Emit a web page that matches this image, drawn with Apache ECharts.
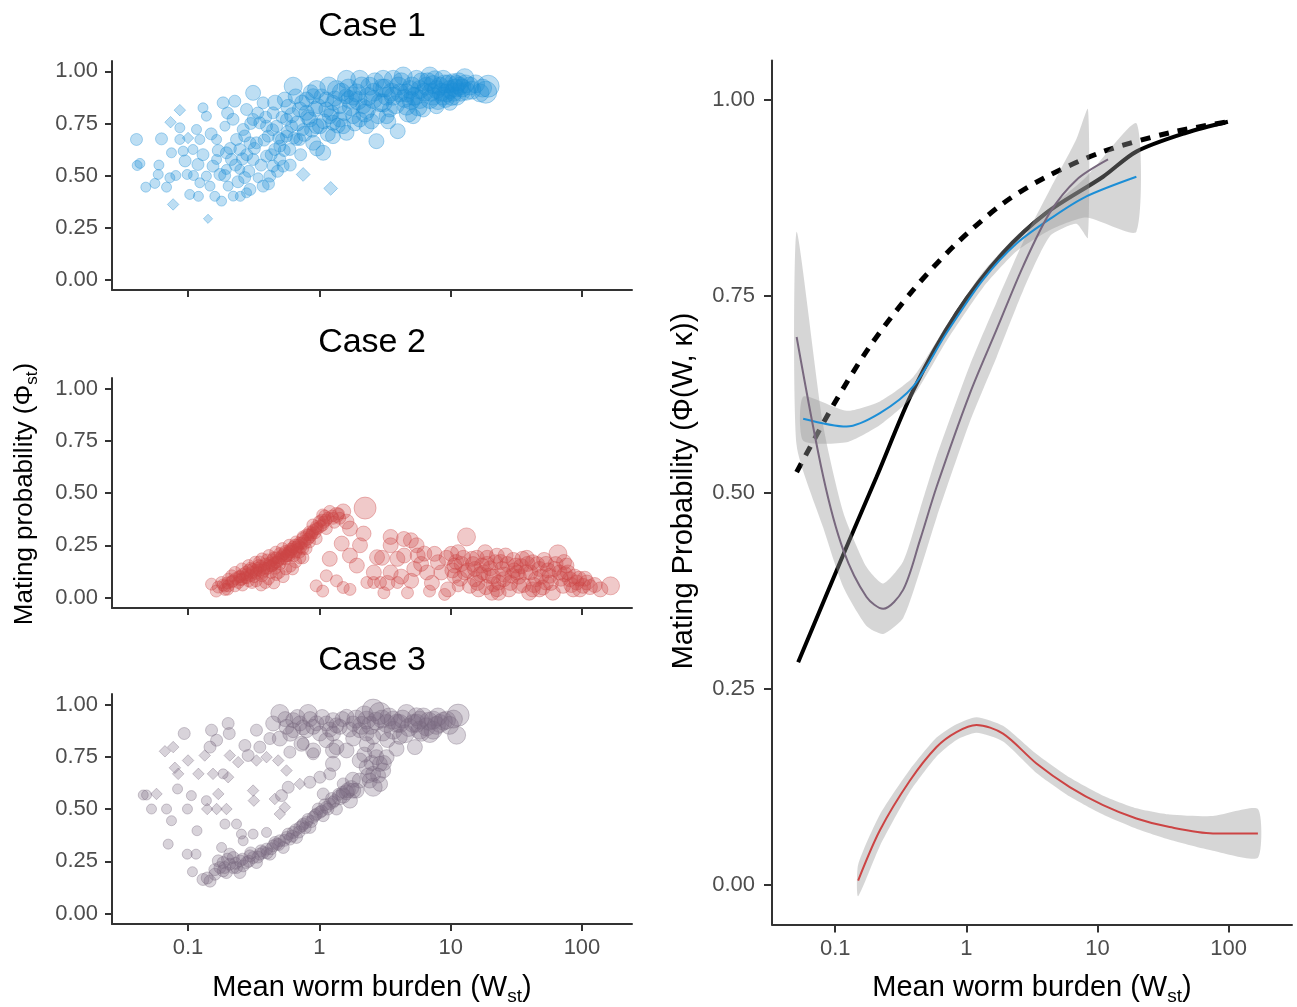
<!DOCTYPE html>
<html><head><meta charset="utf-8">
<script src="https://cdn.jsdelivr.net/npm/echarts@6/dist/echarts.min.js"></script>
<style>html,body{margin:0;padding:0;background:#fff}#c{width:1297px;height:1007px}</style>
</head><body><div id="c"></div>
<script>
// ---------------- data ----------------
const xTicks = [0.1, 1, 10, 100];
const yTicks = [0, 0.25, 0.5, 0.75, 1];
const caseTitles = ['Case 1', 'Case 2', 'Case 3'];

// scatter points: [mean worm burden, mating probability, size class, shape (0 circle, 1 diamond)]
const case1Points = [
[0.0405,0.673,3,0],[0.043,0.558,2,0],[0.041,0.548,2,0],[0.0477,0.444,2,0],[0.0559,0.462,2,0],[0.0593,0.505,2,0],[0.0628,0.676,3,0],[0.0686,0.444,2,0],[0.0727,0.489,2,0],[0.0748,0.609,2,0],[0.077,0.361,2,1],[0.0807,0.5,2,0],[0.0866,0.673,2,0],[0.0866,0.814,2,1],[0.0866,0.729,2,0],[0.0736,0.756,2,1],[0.0918,0.617,2,0],[0.0985,0.505,2,0],[0.103,0.409,2,0],[0.109,0.625,2,0],[0.119,0.553,3,0],[0.123,0.465,2,0],[0.116,0.721,2,0],[0.130,0.825,2,0],[0.138,0.785,2,0],[0.142,0.292,1,1],[0.147,0.449,2,0],[0.155,0.545,3,0],[0.165,0.673,2,0],[0.175,0.505,3,0],[0.180,0.377,2,0],[0.185,0.849,3,0],[0.191,0.737,2,0],[0.196,0.609,3,0],[0.202,0.449,2,0],[0.214,0.577,3,0],[0.221,0.401,2,0],[0.227,0.857,3,0],[0.234,0.673,3,0],[0.248,0.529,2,0],[0.263,0.721,3,0],[0.279,0.817,3,0],[0.279,0.417,2,0],[0.296,0.433,3,0],[0.313,0.897,4,0],[0.313,0.577,3,0],[0.332,0.657,3,0],[0.342,0.489,2,0],[0.352,0.753,3,0],[0.373,0.849,3,0],[0.373,0.449,3,0],[0.396,0.593,3,0],[0.408,0.689,3,0],[0.42,0.497,3,0],[0.445,0.801,3,0],[0.458,0.625,3,0],[0.472,0.737,3,0],[0.5,0.577,3,0],[0.515,0.673,3,0],[0.53,0.545,3,0],[0.546,0.865,4,0],[0.562,0.769,3,0],[0.596,0.625,3,0],[0.614,0.737,3,0],[0.632,0.929,5,0],[0.67,0.673,3,0],[0.71,0.817,4,0],[0.753,0.505,3,1],[0.753,0.721,3,0],[0.798,0.865,4,0],[0.847,0.769,4,0],[0.898,0.657,4,0],[0.951,0.913,5,0],[0.98,0.833,4,0],[1.01,0.737,4,0],[1.07,0.609,4,0],[1.13,0.865,4,0],[1.2,0.785,4,0],[1.22,0.438,3,1],[1.27,0.689,4,0],[1.35,0.913,5,0],[1.43,0.833,4,0],[1.52,0.737,4,0],[1.61,0.962,5,0],[1.71,0.865,5,0],[1.81,0.785,4,0],[1.92,0.897,5,0],[2.03,0.962,5,0],[2.16,0.833,4,0],[2.29,0.737,4,0],[2.42,0.929,5,0],[2.57,0.865,5,0],[2.72,0.665,4,0],[2.8,0.785,4,0],[3.06,0.962,5,0],[3.25,0.881,5,0],[3.44,0.817,4,0],[3.65,0.962,5,0],[3.95,0.713,4,0],[4.1,0.897,5,0],[4.35,0.978,5,0],[4.61,0.833,5,0],[4.89,0.913,5,0],[5.18,0.785,4,0],[5.49,0.962,5,0],[5.82,0.865,5,0],[6.17,0.817,4,0],[6.54,0.929,5,0],[6.94,0.978,5,0],[7.36,0.881,5,0],[7.8,0.833,4,0],[8.27,0.929,5,0],[8.77,0.962,5,0],[9.3,0.897,5,0],[9.86,0.849,4,0],[10.5,0.946,5,0],[11.1,0.881,5,0],[11.7,0.929,5,0],[12.8,0.97,5,0],[13.2,0.905,5,0],[16.7,0.897,5,0],[19.3,0.929,6,0],
[0.898,0.881,4,0],[1.27,0.849,4,0],[1.81,0.881,5,0],[2.29,0.817,5,0],[3.06,0.849,5,0],[3.65,0.881,5,0],[4.61,0.897,5,0],[5.82,0.913,5,0],[6.94,0.865,5,0],[7.8,0.913,5,0],[8.77,0.881,5,0],[9.86,0.913,5,0],[11.1,0.937,5,0],[7.36,0.937,5,0],[5.18,0.881,5,0],[3.25,0.785,4,0],[2.03,0.769,4,0],[1.43,0.769,4,0],[1.13,0.817,4,0],[0.798,0.801,4,0],[0.951,0.737,4,0],[1.27,0.753,4,0],[1.61,0.705,4,0],[0.71,0.673,3,0],[0.562,0.689,3,0],[0.5,0.641,3,0],[0.396,0.737,3,0],[0.296,0.657,3,0],[0.248,0.625,3,0],[0.196,0.529,2,0],[0.165,0.577,2,0],[0.138,0.497,2,0],[0.123,0.673,2,0],[0.313,0.769,3,0],[0.445,0.545,3,0],
[2.6,0.9,5,0],[4.0,0.93,5,0],[6.0,0.95,5,0],[9.0,0.94,5,0],[12,0.9,5,0],[14,0.93,5,0],[3.0,0.92,5,0],[1.6,0.88,4,0],[10.5,0.9,5,0],[5.0,0.86,5,0],[8.0,0.86,5,0],
[0.21,0.63,3,0],[0.22,0.77,3,0],[0.24,0.47,3,0],[0.26,0.58,3,0],[0.27,0.69,3,0],[0.29,0.52,3,0],[0.30,0.75,3,0],[0.32,0.63,3,0],[0.34,0.80,3,0],[0.36,0.55,3,0],[0.38,0.67,3,0],[0.39,0.78,3,0],[0.41,0.46,3,0],[0.43,0.60,3,0],[0.44,0.72,3,0],[0.46,0.85,4,0],[0.48,0.52,3,0],[0.49,0.68,3,0],[0.52,0.78,3,0],[0.54,0.62,3,0],[0.57,0.71,3,0],[0.58,0.83,4,0],[0.60,0.55,3,0],[0.62,0.79,4,0],[0.64,0.68,3,0],[0.66,0.88,4,0],[0.68,0.75,4,0],[0.72,0.60,3,0],[0.74,0.85,4,0],[0.77,0.70,4,0],[0.82,0.78,4,0],[0.86,0.90,4,0],[0.88,0.72,4,0],[0.93,0.82,4,0],[0.96,0.63,4,0],[1.04,0.88,4,0],[1.08,0.76,4,0],[1.16,0.70,4,0],[1.18,0.93,5,0],[1.24,0.80,4,0],[1.31,0.87,4,0],[1.38,0.74,4,0],[1.47,0.90,5,0],[1.55,0.80,4,0],[1.66,0.92,5,0],[1.75,0.83,5,0],[1.86,0.75,4,0],[1.97,0.86,5,0],[2.1,0.93,5,0],[2.22,0.80,5,0],[2.35,0.88,5,0],[2.5,0.76,4,0],[2.65,0.95,5,0],[2.9,0.85,5,0],[3.15,0.92,5,0],[3.35,0.76,4,0],[3.55,0.90,5,0],[3.8,0.84,5,0],[4.2,0.95,5,0],[4.45,0.87,5,0],[4.75,0.80,5,0],[5.05,0.93,5,0],[5.35,0.88,5,0],[5.65,0.83,5,0],[6.3,0.90,5,0],[6.7,0.95,5,0],[7.1,0.90,5,0],[7.6,0.96,5,0],[8.5,0.90,5,0],[9.1,0.87,5,0],[9.6,0.94,5,0],[10.2,0.88,5,0],[10.8,0.92,5,0],[11.5,0.95,5,0],[12.2,0.92,5,0],[13.0,0.94,5,0],[14.5,0.91,5,0],[15.5,0.94,5,0],[17.5,0.92,5,0],[18.5,0.90,6,0],
[0.06,0.55,2,0],[0.095,0.57,3,0],[0.10,0.68,2,1],[0.11,0.50,2,0],[0.12,0.40,2,0],[0.13,0.60,3,0],[0.15,0.70,3,0],[0.16,0.40,2,0],[0.17,0.62,3,0],[0.19,0.50,3,0],[0.20,0.80,3,0],[0.23,0.55,3,0],[0.25,0.40,2,0],[0.27,0.49,3,0],[0.28,0.60,3,0]
];

const case2Points = [
[0.151,0.064,3,0],[0.164,0.031,3,0],[0.191,0.039,3,0],[0.203,0.088,3,0],[0.228,0.120,3,0],[0.242,0.072,3,0],[0.257,0.137,3,0],[0.272,0.096,3,0],[0.289,0.153,3,0],[0.307,0.072,3,0],[0.325,0.169,3,0],[0.345,0.120,3,0],[0.366,0.185,3,0],[0.389,0.072,3,0],[0.413,0.201,3,0],[0.438,0.153,3,0],[0.465,0.217,3,0],[0.493,0.120,3,0],[0.523,0.234,3,0],[0.555,0.185,3,0],[0.589,0.250,3,0],[0.625,0.137,3,0],[0.664,0.266,3,0],[0.704,0.217,3,0],[0.747,0.282,3,0],[0.792,0.234,3,0],[0.841,0.314,3,0],[0.892,0.347,3,0],[0.946,0.282,3,0],[1.0,0.363,3,0],[1.06,0.395,3,0],[1.13,0.330,3,0],[1.20,0.412,3,0],[1.35,0.395,4,0],[1.52,0.412,4,0],[1.61,0.363,4,0],[1.71,0.330,4,0],
[0.180,0.072,3,0],[0.215,0.104,3,0],[0.257,0.088,3,0],[0.307,0.120,3,0],[0.345,0.153,3,0],[0.413,0.153,3,0],[0.465,0.169,3,0],[0.523,0.185,3,0],[0.589,0.201,3,0],[0.664,0.217,3,0],[0.747,0.234,3,0],[0.841,0.266,3,0],[0.946,0.330,3,0],[1.06,0.347,3,0],[1.27,0.379,3,0],[1.43,0.379,3,0],[0.228,0.056,3,0],[0.289,0.080,3,0],[0.366,0.104,3,0],[0.203,0.056,3,0],[0.555,0.137,3,0],
[0.30,0.14,3,0],[0.35,0.17,3,0],[0.40,0.18,3,0],[0.45,0.19,3,0],[0.50,0.21,3,0],[0.55,0.22,3,0],[0.60,0.23,3,0],[0.65,0.25,3,0],[0.70,0.26,3,0],[0.75,0.29,3,0],[0.80,0.30,3,0],[0.90,0.32,3,0],[0.25,0.10,3,0],[0.28,0.11,3,0],[0.33,0.13,3,0],[0.38,0.14,3,0],[0.43,0.12,3,0],[0.48,0.17,3,0],[0.41,0.09,3,0],[0.47,0.11,3,0],[0.75,0.19,3,0],
[0.17,0.05,3,0],[0.185,0.06,3,0],[0.20,0.07,3,0],[0.215,0.075,3,0],[0.23,0.09,3,0],[0.245,0.10,3,0],[0.26,0.11,3,0],[0.275,0.12,3,0],[0.29,0.13,3,0],[0.31,0.135,3,0],[0.32,0.10,3,0],[0.34,0.14,3,0],[0.36,0.15,3,0],[0.37,0.12,3,0],[0.39,0.16,3,0],[0.42,0.165,3,0],[0.44,0.18,3,0],[0.46,0.14,3,0],[0.47,0.19,3,0],[0.50,0.16,3,0],[0.52,0.20,3,0],[0.54,0.21,3,0],[0.57,0.20,3,0],[0.59,0.22,3,0],[0.62,0.23,3,0],[0.64,0.20,3,0],[0.67,0.24,3,0],[0.69,0.25,3,0],[0.72,0.24,3,0],[0.77,0.27,3,0],[0.82,0.28,3,0],[0.85,0.29,3,0],[0.87,0.30,3,0],[0.93,0.31,3,0],[0.97,0.33,3,0],[1.02,0.34,3,0],[1.08,0.36,3,0],[1.12,0.37,3,0],[1.16,0.38,3,0],[1.25,0.39,3,0],[1.3,0.36,3,0],[1.4,0.40,3,0],[0.2,0.04,3,0],[0.26,0.06,3,0],[0.33,0.08,3,0],[0.36,0.06,3,0],[0.45,0.07,3,0],[0.53,0.10,3,0],[0.6,0.15,3,0],[0.66,0.17,3,0],[0.71,0.19,3,0],
[0.19,0.055,3,0],[0.22,0.08,3,0],[0.25,0.085,3,0],[0.28,0.095,3,0],[0.30,0.105,3,0],[0.33,0.115,3,0],[0.35,0.13,3,0],[0.38,0.13,3,0],[0.40,0.14,3,0],[0.43,0.15,3,0],[0.45,0.16,3,0],[0.49,0.18,3,0],[0.51,0.19,3,0],[0.56,0.20,3,0],[0.58,0.21,3,0],[0.61,0.22,3,0],[0.63,0.24,3,0],[0.68,0.23,3,0],[0.73,0.26,3,0],[0.78,0.26,3,0],[0.83,0.30,3,0],[0.88,0.31,3,0],[0.95,0.34,3,0],[1.04,0.37,3,0],[1.10,0.39,3,0],
[2.23,0.428,6,0],[2.17,0.306,4,0],[2.04,0.250,4,0],[1.93,0.153,4,0],[1.71,0.201,4,0],[1.48,0.258,4,0],[1.20,0.185,4,0],[1.13,0.104,3,0],[0.946,0.056,3,0],[1.06,0.031,3,0],[1.35,0.080,3,0],[1.52,0.048,3,0],[1.71,0.039,3,0],[2.30,0.072,3,0],[2.59,0.072,3,0],[2.75,0.193,4,0],[2.92,0.072,3,0],[3.10,0.023,3,0],[3.49,0.290,4,0],[3.49,0.250,4,0],[3.49,0.120,4,0],[3.93,0.185,4,0],[3.93,0.072,3,0],[4.42,0.201,4,0],[4.69,0.023,3,0],[4.98,0.274,4,0],[5.28,0.137,4,0],[5.61,0.201,4,0],[5.95,0.161,4,0],[6.90,0.031,3,0],[7.54,0.209,4,0],[8.00,0.169,4,0],[9.00,0.015,3,0],[10.1,0.209,4,0],[10.7,0.104,4,0],[11.4,0.217,4,0],[13.2,0.290,5,0],[11.4,0.056,3,0],[12.8,0.120,4,0],
[2.6,0.12,4,0],[3.0,0.19,4,0],[3.3,0.07,4,0],[4.2,0.10,4,0],[5.0,0.08,4,0],[6.3,0.21,4,0],[6.6,0.12,4,0],[7.2,0.07,4,0],[8.5,0.12,4,0],[9.3,0.19,4,0],[4.4,0.28,4,0],[5.5,0.25,4,0],
[14.5,0.185,4,0],[15.3,0.088,4,0],[16.3,0.039,4,0],[17.3,0.153,4,0],[18.3,0.217,4,0],[19.5,0.104,4,0],[20.6,0.023,4,0],[21.9,0.169,4,0],[23.2,0.072,4,0],[24.7,0.137,4,0],[26.2,0.201,4,0],[27.8,0.039,4,0],[29.5,0.104,4,0],[31.3,0.153,4,0],[33.2,0.056,4,0],[35.2,0.185,4,0],[37.3,0.120,4,0],[39.6,0.023,4,0],[42.1,0.169,4,0],[44.6,0.088,4,0],[47.4,0.137,4,0],[50.3,0.048,4,0],[53.3,0.161,4,0],[56.6,0.104,4,0],[60.0,0.023,4,0],[65.6,0.209,5,0],[67.6,0.120,4,0],[71.8,0.056,4,0],[76.2,0.153,4,0],[80.8,0.088,4,0],[85.8,0.039,4,0],[91.0,0.072,4,0],[102,0.056,4,0],[109,0.072,4,0],[138,0.039,4,0],[165,0.056,5,0],
[10.7,0.153,4,0],[12.1,0.161,4,0],[14.0,0.056,4,0],[16.8,0.112,4,0],[18.9,0.161,4,0],[21.2,0.064,4,0],[25.4,0.088,4,0],[32.2,0.120,4,0],[38.5,0.161,4,0],[47.4,0.039,4,0],[61.8,0.137,4,0],[74.0,0.112,4,0],[96.4,0.039,4,0],[9.55,0.039,4,0],[23.2,0.023,4,0],[42.1,0.039,4,0],[53.3,0.072,4,0],[15.3,0.137,4,0],
[10.3,0.13,4,0],[11.0,0.17,4,0],[11.8,0.09,4,0],[12.5,0.19,4,0],[13.5,0.13,4,0],[14.8,0.16,4,0],[15.8,0.19,4,0],[16.0,0.07,4,0],[17.8,0.12,4,0],[18.6,0.05,4,0],[19.0,0.19,4,0],[20.0,0.14,4,0],[21.0,0.10,4,0],[22.5,0.20,4,0],[22.5,0.04,4,0],[24.0,0.17,4,0],[25.5,0.11,4,0],[27.0,0.16,4,0],[28.5,0.07,4,0],[30.0,0.18,4,0],[30.5,0.13,4,0],[33.0,0.10,4,0],[34.5,0.15,4,0],[36.0,0.06,4,0],[38.0,0.19,4,0],[40.5,0.12,4,0],[43.0,0.06,4,0],[45.5,0.16,4,0],[49.0,0.10,4,0],[51.5,0.18,4,0],[55.0,0.13,4,0],[58.0,0.07,4,0],[63.0,0.16,4,0],[69.0,0.09,4,0],[73.0,0.17,4,0],[78.0,0.12,4,0],[83.0,0.06,4,0],[88.0,0.10,4,0],[95.0,0.09,4,0],[105,0.09,4,0],[115,0.05,4,0],[125,0.06,4,0]
];

const case3Points = [
[0.5,0.957,5,0],[0.822,0.957,5,0],[0.445,0.909,4,0],[0.5,0.837,4,0],[0.562,0.893,4,0],[0.632,0.877,4,0],[0.710,0.909,4,0],[0.798,0.877,4,0],[0.898,0.893,4,0],[1.01,0.861,4,0],[1.13,0.909,4,0],[1.27,0.925,4,0],[1.43,0.893,4,0],[1.61,0.941,4,0],[1.81,0.909,4,0],[2.03,0.877,4,0],[2.29,0.925,5,0],[2.57,0.973,6,0],[2.89,0.957,6,0],[3.25,0.909,5,0],[3.65,0.877,5,0],[4.10,0.845,4,0],[4.61,0.957,5,0],[5.18,0.909,5,0],[5.82,0.925,5,0],[6.54,0.893,5,0],[7.36,0.925,5,0],[8.27,0.909,5,0],[9.30,0.925,5,0],[11.1,0.853,5,0],[11.4,0.949,6,0],[5.34,0.796,4,0],[3.87,0.788,4,0],[1.61,0.780,4,0],[1.35,0.796,4,0],[0.898,0.780,4,0],[0.731,0.812,4,0],[1.13,0.829,4,0],[1.81,0.837,4,0],[2.57,0.845,4,0],[5.82,0.877,5,0],[6.94,0.861,5,0],[3.65,0.925,5,0],[5.49,0.941,5,0],[7.36,0.877,5,0],[2.29,0.861,4,0],[1.27,0.861,4,0],[0.632,0.925,4,0],[4.10,0.909,5,0],[3.06,0.861,4,0],
[0.55,0.93,4,0],[0.6,0.86,4,0],[0.68,0.94,4,0],[0.75,0.89,4,0],[0.85,0.93,4,0],[0.95,0.91,4,0],[1.05,0.94,4,0],[1.2,0.88,4,0],[1.35,0.90,4,0],[1.5,0.93,4,0],[1.7,0.88,4,0],[1.9,0.93,5,0],[2.1,0.90,5,0],[2.2,0.95,5,0],[2.45,0.90,5,0],[2.7,0.92,5,0],[3.0,0.93,5,0],[3.4,0.94,5,0],[3.9,0.91,5,0],[4.3,0.93,5,0],[4.8,0.89,5,0],[5.5,0.91,5,0],[6.2,0.94,5,0],[6.8,0.92,5,0],[7.8,0.90,5,0],[8.8,0.92,5,0],[9.8,0.90,5,0],[10.5,0.93,5,0],[4.5,0.86,5,0],[6.0,0.86,4,0],[8.0,0.94,5,0],[3.3,0.83,4,0],[2.3,0.81,4,0],
[2.03,0.732,4,0],[2.29,0.700,4,0],[2.57,0.668,4,0],[2.89,0.716,4,0],[3.06,0.684,4,0],[2.42,0.636,4,0],[2.72,0.748,4,0],[2.03,0.636,4,0],[3.25,0.748,4,0],[2.57,0.604,5,0],[1.92,0.588,4,0],
[2.2,0.76,4,0],[2.5,0.72,4,0],[2.8,0.66,4,0],[3.1,0.72,4,0],[2.35,0.66,4,0],[2.65,0.78,4,0],[1.8,0.64,4,0],[2.9,0.62,4,0],
[0.130,0.163,3,0],[0.147,0.155,3,0],[0.170,0.252,3,0],[0.175,0.220,3,0],[0.185,0.244,3,0],[0.196,0.196,3,0],[0.208,0.236,3,0],[0.221,0.268,3,0],[0.234,0.220,3,0],[0.248,0.252,3,0],[0.279,0.244,3,0],[0.313,0.268,3,0],[0.352,0.284,3,0],[0.396,0.308,3,0],[0.445,0.324,3,0],[0.5,0.348,3,0],[0.562,0.364,3,0],[0.632,0.388,3,0],[0.710,0.412,3,0],[0.798,0.436,3,0],[0.898,0.460,3,0],[1.01,0.484,3,0],[1.13,0.508,3,0],[1.27,0.532,3,0],[1.43,0.556,4,0],[1.61,0.580,4,0],[1.81,0.588,4,0],
[0.185,0.204,3,0],[0.221,0.220,3,0],[0.263,0.228,3,0],[0.296,0.276,3,0],[0.332,0.244,3,0],[0.373,0.292,3,0],[0.420,0.284,3,0],[0.472,0.332,3,0],[0.531,0.316,3,0],[0.596,0.356,3,0],[0.670,0.364,3,0],[0.753,0.428,3,0],[0.847,0.412,3,0],[0.951,0.476,3,0],[1.07,0.468,3,0],[1.20,0.524,3,0],[1.35,0.500,3,0],[1.52,0.564,4,0],[1.71,0.540,4,0],[0.160,0.188,3,0],[0.248,0.196,3,0],[0.208,0.284,3,0],
[0.14,0.17,3,0],[0.16,0.21,3,0],[0.19,0.22,3,0],[0.2,0.26,3,0],[0.23,0.24,3,0],[0.26,0.26,3,0],[0.29,0.25,3,0],[0.3,0.29,3,0],[0.34,0.27,3,0],[0.36,0.30,3,0],[0.4,0.29,3,0],[0.43,0.31,3,0],[0.46,0.34,3,0],[0.49,0.33,3,0],[0.54,0.35,3,0],[0.58,0.38,3,0],[0.62,0.37,3,0],[0.66,0.40,3,0],[0.7,0.39,3,0],[0.74,0.42,3,0],[0.78,0.41,3,0],[0.82,0.45,3,0],[0.87,0.44,3,0],[0.93,0.47,3,0],[0.98,0.50,3,0],[1.04,0.49,3,0],[1.1,0.52,3,0],[1.16,0.50,3,0],[1.24,0.55,3,0],[1.3,0.54,3,0],[1.4,0.57,3,0],[1.5,0.58,3,0],[1.65,0.59,4,0],[1.75,0.60,4,0],
[0.0456,0.567,2,0],[0.0483,0.567,2,0],[0.0575,0.572,2,1],[0.0527,0.500,2,0],[0.0667,0.776,2,1],[0.0771,0.796,2,1],[0.0686,0.500,2,0],[0.0748,0.444,2,0],[0.0706,0.332,2,0],[0.0794,0.697,2,1],[0.0841,0.668,2,1],[0.0832,0.596,2,0],[0.0935,0.861,3,0],[0.1,0.732,2,1],[0.099,0.500,2,0],[0.0986,0.284,2,0],[0.106,0.564,2,0],[0.108,0.200,2,0],[0.115,0.284,2,0],[0.120,0.668,2,1],[0.117,0.396,2,0],[0.134,0.756,2,1],[0.138,0.540,2,0],[0.140,0.500,2,1],[0.151,0.877,3,0],[0.147,0.796,3,0],[0.155,0.668,2,1],[0.170,0.572,2,1],[0.165,0.500,2,1],[0.165,0.829,3,0],[0.180,0.316,2,0],[0.185,0.668,2,0],[0.191,0.428,2,0],[0.196,0.500,2,1],[0.202,0.909,3,0],[0.206,0.861,3,0],[0.208,0.756,2,1],[0.202,0.652,2,1],[0.241,0.724,2,1],[0.234,0.428,2,0],[0.255,0.380,2,0],[0.263,0.348,2,0],[0.271,0.804,3,0],[0.287,0.756,3,0],[0.313,0.588,2,1],[0.317,0.540,2,1],[0.313,0.380,2,0],[0.332,0.877,3,0],[0.332,0.732,2,1],[0.352,0.796,3,0],[0.396,0.388,2,0],[0.396,0.748,2,1],[0.420,0.837,3,0],[0.458,0.548,2,1],[0.486,0.732,2,1],[0.515,0.564,3,0],[0.5,0.476,2,1],[0.546,0.508,2,1],[0.562,0.684,2,1],[0.579,0.604,3,0],[0.596,0.772,3,0],[0.710,0.620,2,1],[0.753,0.812,3,0],[0.847,0.628,3,0],[0.898,0.764,3,0],[1.01,0.652,3,0],[1.07,0.572,3,0],[1.20,0.668,3,0],[1.27,0.716,4,0],[1.27,0.780,4,0],[1.52,0.620,3,0]
];

// right panel curves
const dashedX = [0.0508, 0.0966, 0.1837, 0.3936, 0.8414, 1.905, 4.083, 11.04, 35.56, 98.9];
const dashedY = [0.526, 0.611, 0.686, 0.758, 0.817, 0.868, 0.902, 0.934, 0.958, 0.972];
const solidX = [0.0522, 0.1222, 0.207, 0.3936, 0.841, 1.905, 4.083, 11.04, 19.82, 47.64, 98.9];
const solidY = [0.284, 0.431, 0.520, 0.630, 0.728, 0.805, 0.856, 0.902, 0.934, 0.958, 0.972];

const blueX = [0.0570, 0.1222, 0.2193, 0.3936, 0.7063, 1.343, 2.415, 4.592, 8.241, 19.82];
const blueY = [0.594, 0.584, 0.601, 0.635, 0.703, 0.771, 0.817, 0.851, 0.877, 0.902];
const blueLo = [0.566, 0.564, 0.586, 0.623, 0.693, 0.761, 0.807, 0.836, 0.850, 0.832];
const blueHi = [0.622, 0.604, 0.616, 0.647, 0.713, 0.781, 0.827, 0.866, 0.902, 0.970];

const purpleX = [0.0508, 0.0811, 0.1151, 0.1734, 0.2323, 0.3296, 0.4426, 0.5929, 1.064, 1.698, 2.710, 4.325, 6.918, 12.05];
const purpleY = [0.698, 0.520, 0.427, 0.367, 0.352, 0.376, 0.439, 0.507, 0.626, 0.707, 0.788, 0.856, 0.898, 0.924];
const purpleBandX = [0.0508, 0.0811, 0.1151, 0.1734, 0.2323, 0.3296, 0.4426, 0.5929, 1.064, 1.698, 2.710, 4.325, 6.918, 8.47];
const purpleLo = [0.560, 0.455, 0.380, 0.330, 0.320, 0.340, 0.400, 0.468, 0.590, 0.672, 0.757, 0.826, 0.842, 0.824];
const purpleHi = [0.832, 0.585, 0.475, 0.405, 0.384, 0.412, 0.478, 0.546, 0.662, 0.742, 0.819, 0.885, 0.950, 0.988];

const redX = [0.1496, 0.2193, 0.3707, 0.5929, 0.8414, 1.197, 1.905, 3.428, 6.152, 11.04, 19.82, 35.56, 76.03, 167.5];
const redY = [0.006, 0.070, 0.133, 0.176, 0.195, 0.204, 0.193, 0.155, 0.125, 0.102, 0.085, 0.074, 0.066, 0.066];
const redLo = [-0.014, 0.050, 0.119, 0.164, 0.185, 0.194, 0.183, 0.143, 0.113, 0.090, 0.072, 0.058, 0.044, 0.035];
const redHi = [0.026, 0.090, 0.147, 0.188, 0.205, 0.214, 0.203, 0.167, 0.137, 0.114, 0.098, 0.090, 0.088, 0.097];

// ---------------- chart ----------------
const FONT = "'Liberation Sans', Arial, Helvetica, sans-serif";
const SIZE = [0, 8, 10, 12, 15, 18, 22];
const AXIS_COLOR = '#333333';
const LABEL_COLOR = '#4D4D4D';

function fmtX(v) { return String(Number(Number(v).toPrecision(3))); }

function xAxisCfg(gi, showLabels, min, max, tickLen) {
  return {
    type: 'log', logBase: 10, gridIndex: gi, min: min, max: max,
    axisLine: { show: true, onZero: false, lineStyle: { color: AXIS_COLOR, width: 2 } },
    axisTick: { show: true, length: tickLen, customValues: xTicks, lineStyle: { color: AXIS_COLOR, width: 2 } },
    axisLabel: { show: showLabels, customValues: xTicks, color: LABEL_COLOR, fontSize: 22, fontFamily: FONT, margin: 13, formatter: fmtX },
    splitLine: { show: false }, minorTick: { show: false }, minorSplitLine: { show: false }
  };
}
function yAxisCfg(gi, tickLen, margin) {
  return {
    type: 'value', gridIndex: gi, min: -0.05, max: 1.05,
    axisLine: { show: true, onZero: false, lineStyle: { color: AXIS_COLOR, width: 2 } },
    axisTick: { show: true, length: tickLen, customValues: yTicks, lineStyle: { color: AXIS_COLOR, width: 2 } },
    axisLabel: { show: true, customValues: yTicks, color: LABEL_COLOR, fontSize: 22, fontFamily: FONT, margin: margin, formatter: v => Number(v).toFixed(2) },
    splitLine: { show: false }
  };
}

function scatterSeries(points, gi, rgb, shape) {
  return {
    type: 'scatter', xAxisIndex: gi, yAxisIndex: gi, silent: true, z: 2,
    symbol: shape ? 'diamond' : 'circle',
    data: points.filter(p => p[3] === shape).map(p => [p[0], p[1], p[2]]),
    symbolSize: d => SIZE[d[2]] * (shape ? 1.15 : 1),
    itemStyle: { color: 'rgba(' + rgb + ',0.36)', borderColor: 'rgba(' + rgb + ',0.45)', borderWidth: 1 }
  };
}

function bandSeries(xs, lo, hi) {
  const rows = xs.map((x, i) => [x, lo[i], hi[i]]);
  return {
    type: 'custom', coordinateSystem: 'cartesian2d', xAxisIndex: 3, yAxisIndex: 3, silent: true, z: 2,
    data: rows, encode: { x: 0, y: [1, 2] },
    renderItem: function (params, api) {
      if (params.dataIndex !== 0) return null;
      const up = rows.map(r => api.coord([r[0], r[2]]));
      const dn = rows.map(r => api.coord([r[0], r[1]])).reverse();
      return { type: 'polygon', shape: { points: up.concat(dn), smooth: 0.2 }, style: { fill: 'rgba(153,153,153,0.4)' } };
    }
  };
}

function lineSeries(xs, ys, color, width, dash, z) {
  return {
    type: 'line', xAxisIndex: 3, yAxisIndex: 3, silent: true, z: z,
    data: xs.map((x, i) => [x, ys[i]]), showSymbol: false, symbol: 'none', smooth: 0.3,
    lineStyle: { color: color, width: width, type: dash || 'solid', cap: 'butt' }
  };
}

const BLUE = '28,142,214', RED = '204,68,68', PURPLE = '120,104,126';

const option = {
  animation: false,
  backgroundColor: '#ffffff',
  grid: [
    { left: 112, top: 61, width: 520, height: 229 },
    { left: 112, top: 378, width: 520, height: 230 },
    { left: 112, top: 694, width: 520, height: 230 },
    { left: 772, top: 60.5, width: 520, height: 864 }
  ],
  xAxis: [
    xAxisCfg(0, false, 0.02636, 240.4, 7),
    xAxisCfg(1, false, 0.02636, 240.4, 7),
    xAxisCfg(2, true, 0.02636, 240.4, 7),
    xAxisCfg(3, true, 0.03296, 304.9, 8)
  ],
  yAxis: [yAxisCfg(0, 7, 14), yAxisCfg(1, 7, 14), yAxisCfg(2, 7, 14), yAxisCfg(3, 8, 17)],
  series: [
    scatterSeries(case1Points, 0, BLUE, 0), scatterSeries(case1Points, 0, BLUE, 1),
    scatterSeries(case2Points, 1, RED, 0), scatterSeries(case2Points, 1, RED, 1),
    scatterSeries(case3Points, 2, PURPLE, 0), scatterSeries(case3Points, 2, PURPLE, 1),
    lineSeries(dashedX, dashedY, '#000000', 5, [10, 9], 1),
    lineSeries(solidX, solidY, '#000000', 4, 'solid', 1),
    bandSeries(blueX, blueLo, blueHi),
    bandSeries(redX, redLo, redHi),
    bandSeries(purpleBandX, purpleLo, purpleHi),
    lineSeries(blueX, blueY, 'rgb(' + BLUE + ')', 2, 'solid', 3),
    lineSeries(redX, redY, 'rgb(' + RED + ')', 2, 'solid', 3),
    lineSeries(purpleX, purpleY, 'rgb(' + PURPLE + ')', 2, 'solid', 3)
  ],
  graphic: [
    ...caseTitles.map((t, i) => ({
      type: 'text', x: 372, y: [27, 343, 661][i],
      style: { text: t, font: '34px ' + FONT, fill: '#000', textAlign: 'center', textVerticalAlign: 'middle', align: 'center', verticalAlign: 'middle' }
    })),
    {
      type: 'text', x: 372, y: 988,
      style: { text: '{a|Mean worm burden (W}{b|st}{a|)}', textAlign: 'center', textVerticalAlign: 'middle', align: 'center', verticalAlign: 'middle',
        rich: { a: { fontSize: 29, fontFamily: FONT, lineHeight: 36, fill: '#000' }, b: { fontSize: 19, fontFamily: FONT, lineHeight: 19, verticalAlign: 'bottom', fill: '#000' } } }
    },
    {
      type: 'text', x: 1032, y: 988,
      style: { text: '{a|Mean worm burden (W}{b|st}{a|)}', textAlign: 'center', textVerticalAlign: 'middle', align: 'center', verticalAlign: 'middle',
        rich: { a: { fontSize: 29, fontFamily: FONT, lineHeight: 36, fill: '#000' }, b: { fontSize: 19, fontFamily: FONT, lineHeight: 19, verticalAlign: 'bottom', fill: '#000' } } }
    },
    {
      type: 'text', x: 25, y: 494, rotation: Math.PI / 2,
      style: { text: '{a|Mating probability (Φ}{b|st}{a|)}', textAlign: 'center', textVerticalAlign: 'middle', align: 'center', verticalAlign: 'middle',
        rich: { a: { fontSize: 26, fontFamily: FONT, lineHeight: 32, fill: '#000' }, b: { fontSize: 17, fontFamily: FONT, lineHeight: 17, verticalAlign: 'bottom', fill: '#000' } } }
    },
    {
      type: 'text', x: 684, y: 491, rotation: Math.PI / 2,
      style: { text: 'Mating Probability (Φ(W, κ))', font: '29px ' + FONT, fill: '#000', textAlign: 'center', textVerticalAlign: 'middle', align: 'center', verticalAlign: 'middle' }
    }
  ]
};

const chart = echarts.init(document.getElementById('c'), null, { renderer: 'canvas' });
chart.setOption(option);
</script>
</body></html>
